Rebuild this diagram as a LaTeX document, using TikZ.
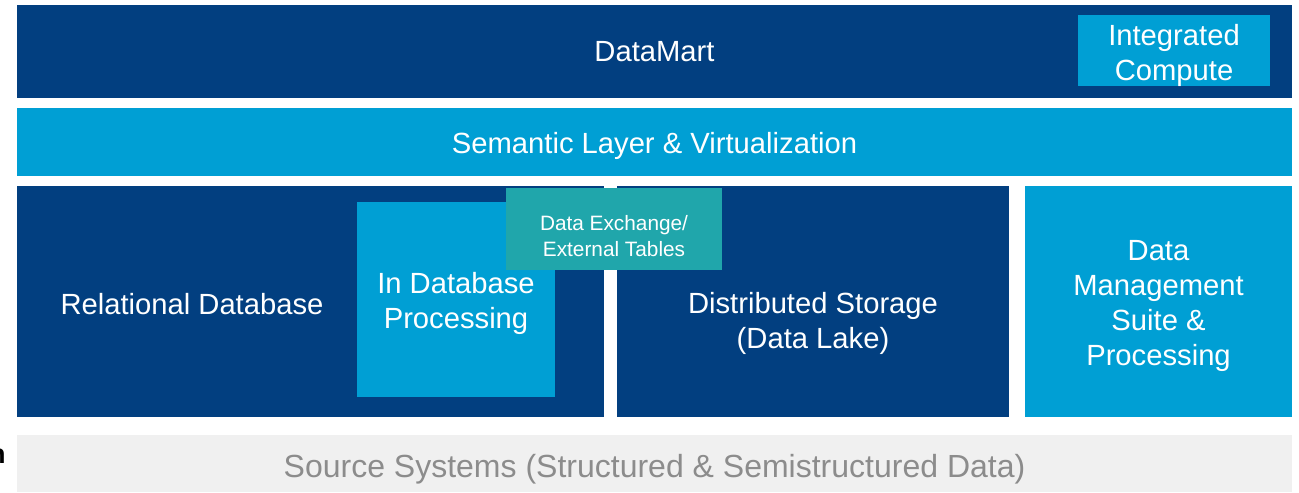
\documentclass[tikz,border=0pt]{standalone}
\usepackage{fontspec}
\setmainfont{Liberation Sans}
\definecolor{navy}{HTML}{023F80}
\definecolor{sky}{HTML}{009FD4}
\definecolor{tealbox}{HTML}{20A6AB}
\definecolor{pale}{HTML}{F0F0F0}
\definecolor{greytext}{HTML}{8C8C8C}
\begin{document}
\begin{tikzpicture}[x=0.5pt,y=-0.5pt,
  block/.style={inner sep=0pt, outer sep=0pt, draw=none},
  label/.style={text=white, align=center, inner sep=0pt,
    font=\fontsize{14.6pt}{17.5pt}\selectfont},
  smalllabel/.style={text=white, align=center, inner sep=0pt,
    font=\fontsize{10.4pt}{13pt}\selectfont}]
\useasboundingbox (0,0) rectangle (1299,492);
% top layer
\node[block, fill=navy, minimum width=637.5pt, minimum height=46.5pt] (mart) at (654.5,51.5) {};
\node[block, fill=sky, minimum width=96pt, minimum height=35.5pt] (compute) at (1174,50.5) {};
\node[label] (martT) at (654.5,52) {DataMart};
\node[label] (computeT) at (1174,55) {Integrated\\Compute};
% semantic layer
\node[block, fill=sky, minimum width=637.5pt, minimum height=34pt] (sem) at (654.5,142) {};
\node[label] (semT) at (654.5,146) {Semantic Layer \& Virtualization};
% storage row
\node[block, fill=navy, minimum width=293.5pt, minimum height=115.5pt] (rdb) at (310.5,301.5) {};
\node[block, fill=navy, minimum width=196pt, minimum height=115.5pt] (lake) at (813,301.5) {};
\node[block, fill=sky, minimum width=133.5pt, minimum height=115.5pt] (mgmt) at (1158.5,301.5) {};
\node[block, fill=sky, minimum width=99pt, minimum height=97.5pt] (indb) at (456,299.5) {};
\node[block, fill=tealbox, minimum width=108pt, minimum height=41pt] (xchg) at (614,229) {};
\node[label] (rdbT) at (192,304) {Relational Database};
\node[label] (indbT) at (456,303) {In Database\\Processing};
\node[label] (lakeT) at (813,323) {Distributed Storage\\(Data Lake)};
\node[label] (mgmtT) at (1158.5,306) {Data\\Management\\Suite \&\\Processing};
\node[smalllabel] (xchgT) at (614,236) {Data Exchange/\\External Tables};
% sources
\node[block, fill=pale, minimum width=637.5pt, minimum height=28.5pt] (src) at (654.5,463.5) {};
\node[text=greytext, inner sep=0pt, font=\fontsize{16pt}{19pt}\selectfont] (srcT) at (654.5,469) {Source Systems (Structured \& Semistructured Data)};
\node[inner sep=0pt, anchor=east, font=\bfseries\fontsize{13.5pt}{16pt}\selectfont] (cut) at (6,456) {n};
\end{tikzpicture}
\end{document}
